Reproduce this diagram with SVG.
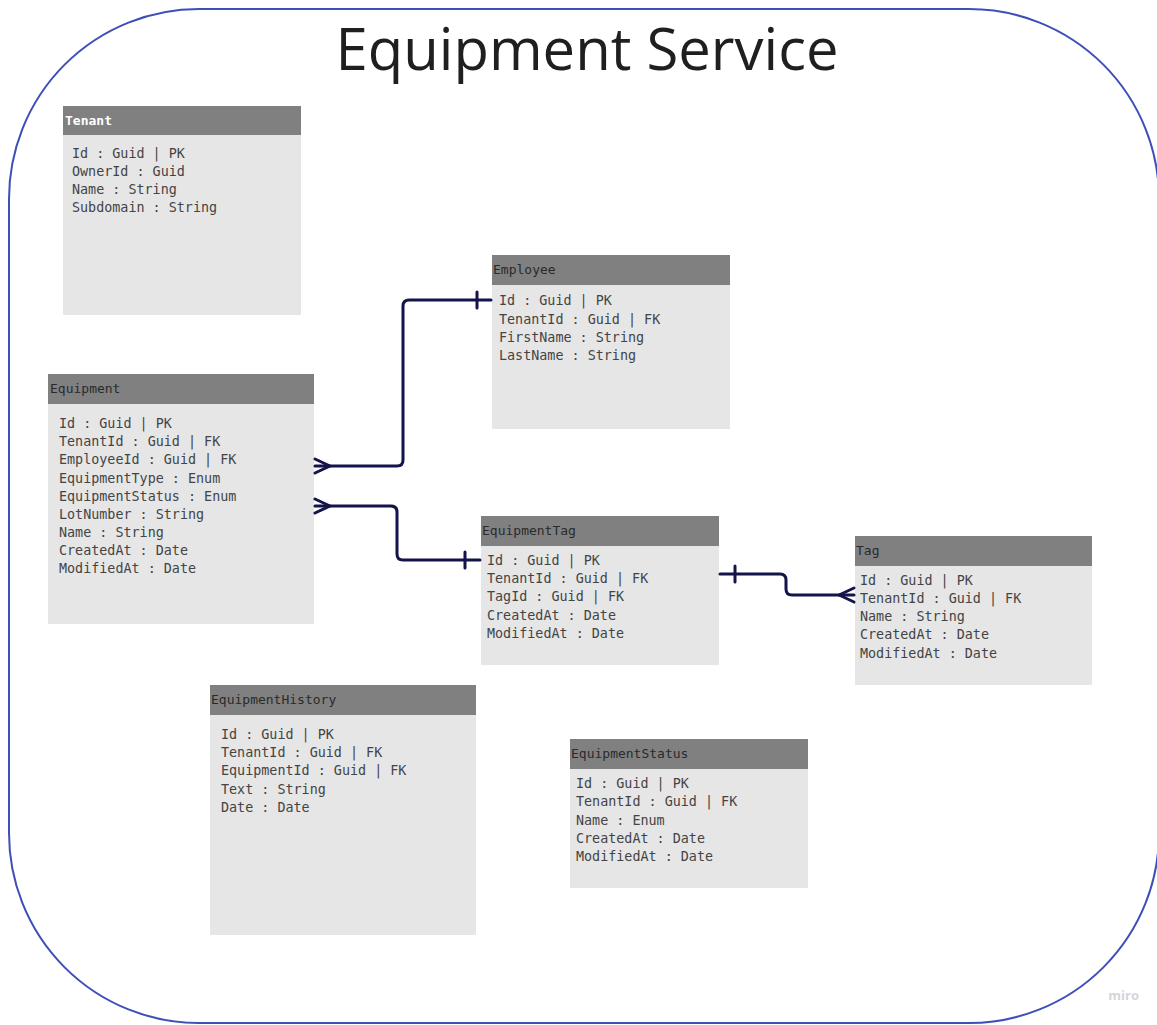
<svg xmlns="http://www.w3.org/2000/svg" width="1157" height="1025" viewBox="0 0 1157 1025">
<style>
.hdr{fill:#808080}
.body{fill:#e6e6e6}
.ht{font-family:"DejaVu Sans Mono","Liberation Mono",monospace;font-size:13px;fill:#2a2a2a}
.htw{font-family:"DejaVu Sans Mono","Liberation Mono",monospace;font-size:13px;fill:#ffffff;font-weight:bold}
.row{font-family:"DejaVu Sans Mono","Liberation Mono",monospace;font-size:13.4px;fill:#444444}
.conn{fill:none;stroke:#14134a;stroke-width:3;stroke-linejoin:round;stroke-linecap:round}
</style>
<rect x="0" y="0" width="1157" height="1025" fill="#ffffff"/>
<rect x="9" y="9" width="1150" height="1014" rx="190" ry="190" fill="none" stroke="#3f4fb8" stroke-width="2"/>
<text x="587" y="70" text-anchor="middle" font-family="'Open Sans','Noto Sans',sans-serif" font-size="58" fill="#1f1f1f">Equipment Service</text>
<text x="1139" y="1000" text-anchor="end" font-family="'Open Sans','Noto Sans',sans-serif" font-size="13" font-weight="bold" fill="#d4d4dc">miro</text>

<g id="tenant">
<rect class="body" x="63" y="106" width="238" height="209"/>
<rect class="hdr" x="63" y="106" width="238" height="29"/>
<text class="htw" x="65" y="125">Tenant</text>
<text class="row" x="72" y="158">Id : Guid | PK</text>
<text class="row" x="72" y="176">OwnerId : Guid</text>
<text class="row" x="72" y="194">Name : String</text>
<text class="row" x="72" y="212">Subdomain : String</text>
</g>

<g id="employee">
<rect class="body" x="492" y="255" width="238" height="174"/>
<rect class="hdr" x="492" y="255" width="238" height="30"/>
<text class="ht" x="493" y="274">Employee</text>
<text class="row" x="499" y="305">Id : Guid | PK</text>
<text class="row" x="499" y="324">TenantId : Guid | FK</text>
<text class="row" x="499" y="342">FirstName : String</text>
<text class="row" x="499" y="360">LastName : String</text>
</g>

<g id="equipment">
<rect class="body" x="48" y="374" width="266" height="250"/>
<rect class="hdr" x="48" y="374" width="266" height="30"/>
<text class="ht" x="50" y="393">Equipment</text>
<text class="row" x="59" y="428">Id : Guid | PK</text>
<text class="row" x="59" y="446">TenantId : Guid | FK</text>
<text class="row" x="59" y="464">EmployeeId : Guid | FK</text>
<text class="row" x="59" y="483">EquipmentType : Enum</text>
<text class="row" x="59" y="501">EquipmentStatus : Enum</text>
<text class="row" x="59" y="519">LotNumber : String</text>
<text class="row" x="59" y="537">Name : String</text>
<text class="row" x="59" y="555">CreatedAt : Date</text>
<text class="row" x="59" y="573">ModifiedAt : Date</text>
</g>

<g id="equipmenttag">
<rect class="body" x="481" y="516" width="238" height="149"/>
<rect class="hdr" x="481" y="516" width="238" height="30"/>
<text class="ht" x="482" y="535">EquipmentTag</text>
<text class="row" x="487" y="565">Id : Guid | PK</text>
<text class="row" x="487" y="583">TenantId : Guid | FK</text>
<text class="row" x="487" y="601">TagId : Guid | FK</text>
<text class="row" x="487" y="620">CreatedAt : Date</text>
<text class="row" x="487" y="638">ModifiedAt : Date</text>
</g>

<g id="tag">
<rect class="body" x="855" y="536" width="237" height="149"/>
<rect class="hdr" x="855" y="536" width="237" height="30"/>
<text class="ht" x="856" y="555">Tag</text>
<text class="row" x="860" y="585">Id : Guid | PK</text>
<text class="row" x="860" y="603">TenantId : Guid | FK</text>
<text class="row" x="860" y="621">Name : String</text>
<text class="row" x="860" y="639">CreatedAt : Date</text>
<text class="row" x="860" y="658">ModifiedAt : Date</text>
</g>

<g id="equipmenthistory">
<rect class="body" x="210" y="685" width="266" height="250"/>
<rect class="hdr" x="210" y="685" width="266" height="30"/>
<text class="ht" x="211" y="704">EquipmentHistory</text>
<text class="row" x="221" y="739">Id : Guid | PK</text>
<text class="row" x="221" y="757">TenantId : Guid | FK</text>
<text class="row" x="221" y="775">EquipmentId : Guid | FK</text>
<text class="row" x="221" y="794">Text : String</text>
<text class="row" x="221" y="812">Date : Date</text>
</g>

<g id="equipmentstatus">
<rect class="body" x="570" y="739" width="238" height="149"/>
<rect class="hdr" x="570" y="739" width="238" height="30"/>
<text class="ht" x="571" y="758">EquipmentStatus</text>
<text class="row" x="576" y="788">Id : Guid | PK</text>
<text class="row" x="576" y="806">TenantId : Guid | FK</text>
<text class="row" x="576" y="825">Name : Enum</text>
<text class="row" x="576" y="843">CreatedAt : Date</text>
<text class="row" x="576" y="861">ModifiedAt : Date</text>
</g>

<g id="connectors">
<path class="conn" d="M315 466 H397 Q403 466 403 460 V306 Q403 300 409 300 H491"/>
<path class="conn" d="M315 459 L330 466 L315 473"/>
<path class="conn" d="M477 292 V308"/>
<path class="conn" d="M315 506 H391 Q397 506 397 512 V554 Q397 560 403 560 H480"/>
<path class="conn" d="M315 499 L330 506 L315 513"/>
<path class="conn" d="M465 552 V568"/>
<path class="conn" d="M720 574 H780 Q786 574 786 580 V589 Q786 595 792 595 H854"/>
<path class="conn" d="M854 588 L839 595 L854 602"/>
<path class="conn" d="M735 566 V582"/>
</g>
</svg>
